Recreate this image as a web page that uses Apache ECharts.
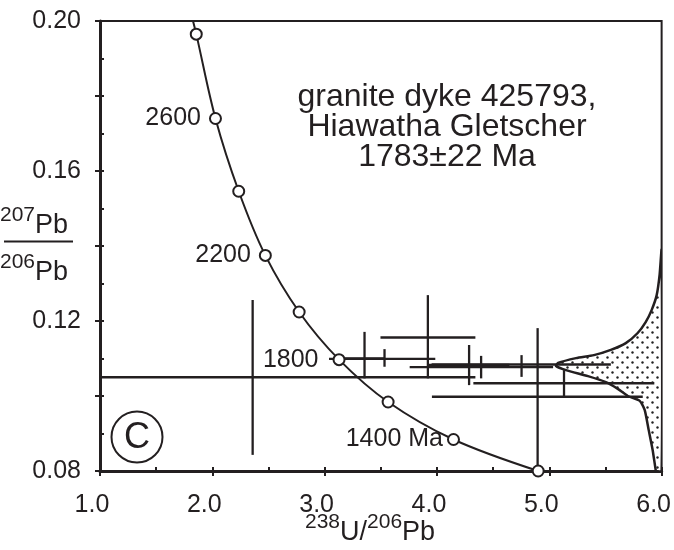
<!DOCTYPE html>
<html>
<head>
<meta charset="utf-8">
<script src="https://cdn.jsdelivr.net/npm/echarts@6/dist/echarts.min.js"></script>
<style>
  html, body { margin: 0; padding: 0; background: #fff; }
  #chart { width: 674px; height: 550px; }
</style>
</head>
<body>
<div id="chart"></div>
<script>
// concordia points (Ma)
var concAges = [2800, 2600, 2400, 2200, 2000, 1800, 1600, 1400, 1200];
var concX = [1.857, 2.028, 2.235, 2.472, 2.773, 3.128, 3.565, 4.147, 4.901];
var concY = [0.1965, 0.1740, 0.1546, 0.1375, 0.1224, 0.1097, 0.0984, 0.0884, 0.0800];
var concLabels = {2600: '2600', 2200: '2200', 1800: '1800', 1400: '1400 Ma'};
// curve continues above the frame
var concTopX = 1.815;
var concTopY = 0.2015;

// error crosses: centre, x range, y range
var crossX   = [2.359, 3.919, 3.533, 3.355, 4.896, 5.131, 4.286, 4.393, 4.753];
var crossY   = [0.1050, 0.1156, 0.1099, 0.1100, 0.0998, 0.1034, 0.1083, 0.1077, 0.1084];
var crossXLo = [0.40, 3.497, 3.039, 3.170, 3.955, 4.324, 3.926, 3.757, 3.952];
var crossXHi = [4.342, 4.342, 3.985, 3.535, 5.832, 5.935, 4.644, 5.034, 5.548];
var crossYLo = [0.0843, 0.1047, 0.1078, 0.1047, 0.0811, 0.0997, 0.1029, 0.1047, 0.1051];
var crossYHi = [0.1256, 0.1269, 0.1125, 0.1171, 0.1181, 0.1069, 0.1136, 0.1107, 0.1109];

// probability curve hanging from the right edge
var probX = [6.000, 5.982, 5.956, 5.911, 5.858, 5.787, 5.681, 5.548, 5.397, 5.238, 5.078,
             5.060, 5.149, 5.344, 5.504, 5.610, 5.699, 5.805, 5.849, 5.885, 5.920, 5.947, 5.951, 6.000];
var probY = [0.1389, 0.1323, 0.1269, 0.1229, 0.1197, 0.1168, 0.1141, 0.1123, 0.1109, 0.1101, 0.1088,
             0.1080, 0.1069, 0.1053, 0.1037, 0.1019, 0.1000, 0.0987, 0.0963, 0.0909, 0.0856, 0.0803, 0.0800, 0.0800];

var xTicks = [1, 2, 3, 4, 5, 6];
var yTicks = [0.08, 0.12, 0.16, 0.20];

var ink = '#231f20';
var font = '"Liberation Sans", Arial, sans-serif';
// gap between age label and its circle
var labelGap = {2600: 8, 2200: 8, 1800: 14, 1400: 4};

var dots = document.createElement('canvas');
dots.width = 10; dots.height = 10;
var dc = dots.getContext('2d');
dc.fillStyle = '#fff';
dc.fillRect(0, 0, 10, 10);
dc.fillStyle = '#222';
dc.beginPath(); dc.arc(2.5, 2.5, 1.2, 0, Math.PI * 2); dc.fill();
dc.beginPath(); dc.arc(7.5, 7.5, 1.2, 0, Math.PI * 2); dc.fill();

var crossData = [];
for (var i = 0; i < crossX.length; i++) {
  crossData.push([crossX[i], crossY[i], crossXLo[i], crossXHi[i], crossYLo[i], crossYHi[i]]);
}
var curveData = [[concTopX, concTopY]];
var circleData = [];
for (var j = 0; j < concAges.length; j++) {
  curveData.push([concX[j], concY[j]]);
  var item = {value: [concX[j], concY[j]]};
  if (concLabels[concAges[j]]) {
    item.label = {show: true, formatter: concLabels[concAges[j]], distance: labelGap[concAges[j]]};
  }
  circleData.push(item);
}

function isTick(list, v) {
  for (var k = 0; k < list.length; k++) {
    if (Math.abs(list[k] - v) < 1e-6) return true;
  }
  return false;
}

var supRich = {
  s: {fontSize: 21, fontFamily: font, fill: ink, lineHeight: 22, verticalAlign: 'top'},
  m: {fontSize: 27, fontFamily: font, fill: ink, lineHeight: 34, verticalAlign: 'bottom'}
};

var chart = echarts.init(document.getElementById('chart'));
var option = {
  animation: false,
  grid: {left: 100, right: 10, top: 21, bottom: 79, show: true, borderColor: ink, borderWidth: 2},
  xAxis: [{
    type: 'value', min: 1, max: 6, interval: 0.5, position: 'bottom',
    axisLine: {lineStyle: {color: ink, width: 3}},
    axisTick: {inside: true, length: 4, lineStyle: {color: ink, width: 2}},
    axisLabel: {
      color: ink, fontSize: 25, fontFamily: font, margin: 22, padding: [0, 16, 0, 0],
      formatter: function (v) { return isTick(xTicks, v) ? v.toFixed(1) : ''; }
    },
    splitLine: {show: false}
  }, {
    type: 'value', min: 1, max: 6, interval: 1, position: 'bottom',
    axisLine: {show: false},
    axisTick: {inside: false, length: 5, lineStyle: {color: ink, width: 2}},
    axisLabel: {show: false},
    splitLine: {show: false}
  }],
  yAxis: [{
    type: 'value', min: 0.08, max: 0.20, interval: 0.01, position: 'left',
    axisLine: {show: true, lineStyle: {color: ink, width: 3}},
    axisTick: {show: true, inside: true, length: 4, lineStyle: {color: ink, width: 2}},
    axisLabel: {
      color: ink, fontSize: 25, fontFamily: font, margin: 19,
      formatter: function (v) { return isTick(yTicks, v) ? v.toFixed(2) : ''; }
    },
    splitLine: {show: false}
  }, {
    type: 'value', min: 0.08, max: 0.20, interval: 0.02, position: 'left',
    axisLine: {show: false},
    axisTick: {show: true, inside: false, length: 5, lineStyle: {color: ink, width: 2}},
    axisLabel: {show: false},
    splitLine: {show: false}
  }],
  series: [{
    // probability density
    type: 'custom',
    data: [0],
    clip: true,
    renderItem: function (params, api) {
      var pts = [];
      for (var k = 0; k < probX.length; k++) pts.push(api.coord([probX[k], probY[k]]));
      return {
        type: 'polygon',
        shape: {points: pts, smooth: 0.2},
        style: {fill: {image: dots, repeat: 'repeat'}, stroke: ink, lineWidth: 2.5}
      };
    },
    z: 1
  }, {
    type: 'custom',
    data: crossData,
    clip: true,
    renderItem: function (params, api) {
      var l = api.coord([api.value(2), api.value(1)]);
      var r = api.coord([api.value(3), api.value(1)]);
      var b = api.coord([api.value(0), api.value(4)]);
      var t = api.coord([api.value(0), api.value(5)]);
      return {
        type: 'group',
        children: [
          {type: 'line', shape: {x1: l[0], y1: l[1], x2: r[0], y2: r[1]}, style: {stroke: ink, lineWidth: 2.3}},
          {type: 'line', shape: {x1: b[0], y1: b[1], x2: t[0], y2: t[1]}, style: {stroke: ink, lineWidth: 2.3}}
        ]
      };
    },
    z: 2
  }, {
    type: 'line',
    data: curveData,
    smooth: 0.35,
    showSymbol: false,
    clip: true,
    lineStyle: {color: ink, width: 2},
    z: 3
  }, {
    type: 'scatter',
    data: circleData,
    symbol: 'circle',
    symbolSize: 11,
    itemStyle: {color: '#fff', borderColor: ink, borderWidth: 2, opacity: 1},
    label: {show: false, position: 'left', distance: 6, color: ink, fontSize: 25, fontFamily: font},
    z: 4
  }],
  graphic: [{
    type: 'text', left: 0, top: 205,
    style: {text: '{s|207}{m|Pb}', rich: supRich}
  }, {
    type: 'line', shape: {x1: 4, y1: 241.5, x2: 73, y2: 241.5}, style: {stroke: ink, lineWidth: 2}
  }, {
    type: 'text', left: 0, top: 252,
    style: {text: '{s|206}{m|Pb}', rich: supRich}
  }, {
    type: 'text', left: 305, top: 512,
    style: {text: '{s|238}{m|U/}{s|206}{m|Pb}', rich: supRich}
  }, {
    type: 'text',
    style: {
      x: 447, y: 127, text: 'granite dyke 425793,\nHiawatha Gletscher\n1783\u00b122 Ma',
      textAlign: 'center', textVerticalAlign: 'middle',
      fontSize: 32, fontFamily: font, fill: ink, lineHeight: 30
    }
  }, {
    type: 'circle', shape: {cx: 137, cy: 437, r: 25.5},
    style: {fill: 'none', stroke: ink, lineWidth: 2}
  }, {
    type: 'text',
    style: {
      x: 137, y: 438, text: 'C', textAlign: 'center', textVerticalAlign: 'middle',
      fontSize: 36, fontFamily: font, fill: ink
    }
  }]
};
chart.setOption(option);
</script>
</body>
</html>
